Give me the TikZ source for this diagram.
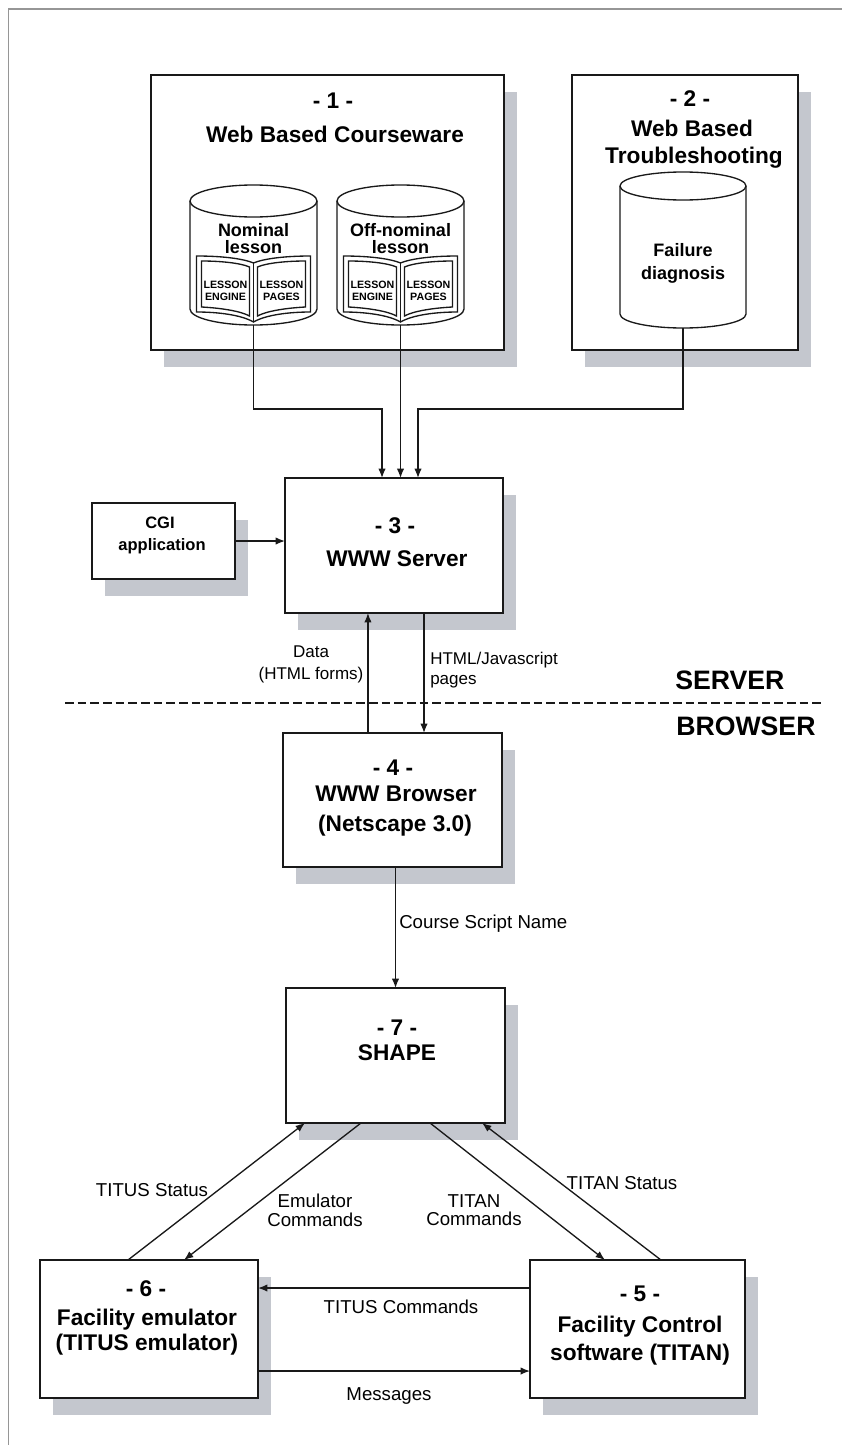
\documentclass[tikz,border=0pt]{standalone}
\usepackage{fontspec}
\setmainfont{Liberation Sans}
\usetikzlibrary{arrows.meta,shadows}
\definecolor{shadowc}{RGB}{196,199,206}
\definecolor{linec}{RGB}{25,25,25}
\definecolor{framec}{RGB}{150,150,150}
\newcommand\lessoncyl[3]{%
\begin{scope}[shift={(#2,0)}]
\draw[cyl] (-63.5,201) -- (-63.5,309) arc[start angle=180,end angle=0,x radius=63.5,y radius=16] -- (63.5,201);
\draw[cyl] (0,201) ellipse[x radius=63.5,y radius=16];
\draw[cyl] (-57,256) .. controls (-35,256) and (-12,258) .. (0,263) .. controls (12,258) and (35,256) .. (57,256) -- (57,312) .. controls (35,312) and (12,315) .. (0,322) .. controls (-12,315) and (-35,312) .. (-57,312) -- cycle;
\draw[cyl] (-52,261) .. controls (-33,261) and (-13,263) .. (-4,267) -- (-4,316) .. controls (-13,311) and (-33,308) .. (-52,307) -- cycle;
\draw[cyl] (52,261) .. controls (33,261) and (13,263) .. (4,267) -- (4,316) .. controls (13,311) and (33,308) .. (52,307) -- cycle;
\draw[cyl] (0,263) -- (0,322);
\node[cyt] (#1t) at (0,230) {#3};
\node[cyt] (#1u) at (0,247) {lesson};
\node[sml] (#1e) at (-28,291) {LESSON\\ENGINE};
\node[sml] (#1p) at (28,291) {LESSON\\PAGES};
\coordinate (#1bot) at (0,325);
\end{scope}}
\begin{document}
\begin{tikzpicture}[x=0.75pt,y=-0.75pt,
  box/.style={draw=linec, line width=1.3pt, fill=white, inner sep=0pt, outer sep=0pt,
    drop shadow={shadow xshift=9.75pt, shadow yshift=-13pt, fill=shadowc, opacity=1}},
  sz/.style 2 args={minimum width=#1*0.75pt, minimum height=#2*0.75pt},
  cyl/.style={draw=linec, line width=1pt, fill=white},
  hd/.style={font=\fontsize{17}{20}\selectfont\bfseries, inner sep=0pt, text height=12.2pt, text depth=0pt},
  big/.style={font=\fontsize{20}{24}\selectfont\bfseries, inner sep=0pt, text height=14.3pt, text depth=0pt},
  cyt/.style={font=\fontsize{13.5}{16}\selectfont\bfseries, inner sep=0pt, text height=9.7pt, text depth=0pt},
  cgit/.style={font=\fontsize{12.4}{15}\selectfont\bfseries, inner sep=0pt, text height=8.9pt, text depth=0pt},
  sml/.style={font=\fontsize{8}{9}\selectfont\bfseries, inner sep=0pt, align=center},
  lab/.style={font=\fontsize{14}{11.5}\selectfont, inner sep=0pt, text height=10pt, text depth=0pt},
  labm/.style={font=\fontsize{14}{14}\selectfont, inner sep=0pt, align=center},
  arr/.style={draw=linec, line width=1pt, -{Latex[length=7pt,width=5.5pt]}},
  conn/.style={draw=linec, line width=1pt},
  dashline/.style={draw=linec, line width=1.5pt, dash pattern=on 6.5pt off 3pt}
]
\useasboundingbox (0,0) rectangle (842,1445);
\fill[white] (0,0) rectangle (842,1445);
% outer frame
\coordinate (fbl) at (8.5,1445);
\coordinate (ftl) at (8.5,9);
\coordinate (ftr) at (842,9);
\draw[framec, line width=1pt] (fbl) -- (ftl) -- (ftr);

% boxes
\node[box, sz={353}{275}] (b1) at (327.5,212.5) {};
\node[box, sz={226}{275}] (b2) at (685,212.5) {};
\node[box, sz={218}{135}] (b3) at (394,545.5) {};
\node[box, sz={143}{76}] (cgi) at (163.5,541) {};
\node[box, sz={219}{134}] (b4) at (392.5,800) {};
\node[box, sz={219}{135}] (b7) at (395.5,1055.5) {};
\node[box, sz={218}{138}] (b6) at (149,1329) {};
\node[box, sz={215}{138}] (b5) at (637.5,1329) {};

% box titles
\node[hd] (t1a) at (333,100) {- 1 -};
\node[hd] (t1b) at (335,134) {Web Based Courseware};
\node[hd] (t2a) at (690,98) {- 2 -};
\node[hd] (t2b) at (692,128) {Web Based};
\node[hd] (t2c) at (694,155) {Troubleshooting};
\node[cgit] (tcga) at (160,523) {CGI};
\node[cgit] (tcgb) at (162,545) {application};
\node[hd] (t3a) at (395,525) {- 3 -};
\node[hd] (t3b) at (397,558) {WWW Server};
\node[hd] (t4a) at (393,767) {- 4 -};
\node[hd] (t4b) at (396,793) {WWW Browser};
\node[hd] (t4c) at (395,823) {(Netscape 3.0)};
\node[hd] (t7a) at (397,1027) {- 7 -};
\node[hd] (t7b) at (397,1052) {SHAPE};
\node[hd] (t6a) at (146,1288) {- 6 -};
\node[hd] (t6b) at (147,1317) {Facility emulator};
\node[hd] (t6c) at (147,1342) {(TITUS emulator)};
\node[hd] (t5a) at (640,1293) {- 5 -};
\node[hd] (t5b) at (640,1324) {Facility Control};
\node[hd] (t5c) at (640,1352) {software (TITAN)};

% cylinders
\lessoncyl{nom}{253.5}{Nominal}
\lessoncyl{off}{400.5}{Off-nominal}
\begin{scope}[shift={(683,0)}]
\draw[cyl] (-63,186) -- (-63,314) arc[start angle=180,end angle=0,x radius=63,y radius=14] -- (63,186);
\draw[cyl] (0,186) ellipse[x radius=63,y radius=14];
\node[cyt] (faia) at (0,250) {Failure};
\node[cyt] (faib2) at (0,273) {diagnosis};
\coordinate (faibot) at (0,328);
\end{scope}

% server / browser
\coordinate (dl) at (65,703);
\coordinate (dr) at (822,703);
\draw[dashline] (dl) -- (dr);
\node[big, anchor=west] (lserver) at (675,680) {SERVER};
\node[big, anchor=west] (lbrowser) at (676,726) {BROWSER};

% connectors top
\draw[arr] (nombot) -- ++(0,84) -| ([xshift=-9pt]b3.north);
\draw[arr] (offbot) -- (offbot |- b3.north);
\draw[arr] (faibot) -- ++(0,81) -| ([xshift=18pt]b3.north);
\draw[arr] (cgi.east) -- (cgi.east -| b3.west);

% server <-> browser
\draw[arr] ([xshift=-18.4pt]b4.north) -- ([xshift=-18.4pt]b4.north |- b3.south);
\draw[arr] ([xshift=22.5pt]b3.south) -- ([xshift=22.5pt]b3.south |- b4.north);
\node[font=\fontsize{12.75}{16.5}\selectfont, inner sep=0pt, align=center] (ldata) at (311,664) {Data\\(HTML forms)};
\node[font=\fontsize{12.75}{14.5}\selectfont, inner sep=0pt, align=left, anchor=west] (lhtml) at (430,670) {HTML/Javascript\\pages};

% browser -> shape
\draw[arr] (b7.north |- b4.south) -- (b7.north);
\node[lab, anchor=west] (lcsn) at (399,922) {Course Script Name};

% shape <-> 5,6
\draw[arr] ([xshift=-15.75pt]b6.north) -- ([xshift=-67.9pt]b7.south);
\draw[arr] ([xshift=-25.9pt]b7.south) -- ([xshift=26.25pt]b6.north);
\draw[arr] ([xshift=25.9pt]b7.south) -- ([xshift=-24.4pt]b5.north);
\draw[arr] ([xshift=17.6pt]b5.north) -- ([xshift=64.9pt]b7.south);
\node[lab] (ltituss) at (152,1190) {TITUS Status};
\node[labm] (lemu) at (315,1210) {Emulator\\Commands};
\node[labm] (ltitanc) at (474,1210) {TITAN\\Commands};
\node[lab] (ltitans) at (622,1183) {TITAN Status};

% 5 <-> 6
\draw[arr] ([yshift=30.75pt]b5.west) -- ([yshift=30.75pt]b6.east);
\draw[arr] ([yshift=-31.5pt]b6.east) -- ([yshift=-31.5pt]b5.west);
\node[lab] (ltitusc) at (401,1307) {TITUS Commands};
\node[lab] (lmsg) at (389,1394) {Messages};
\end{tikzpicture}
\end{document}
